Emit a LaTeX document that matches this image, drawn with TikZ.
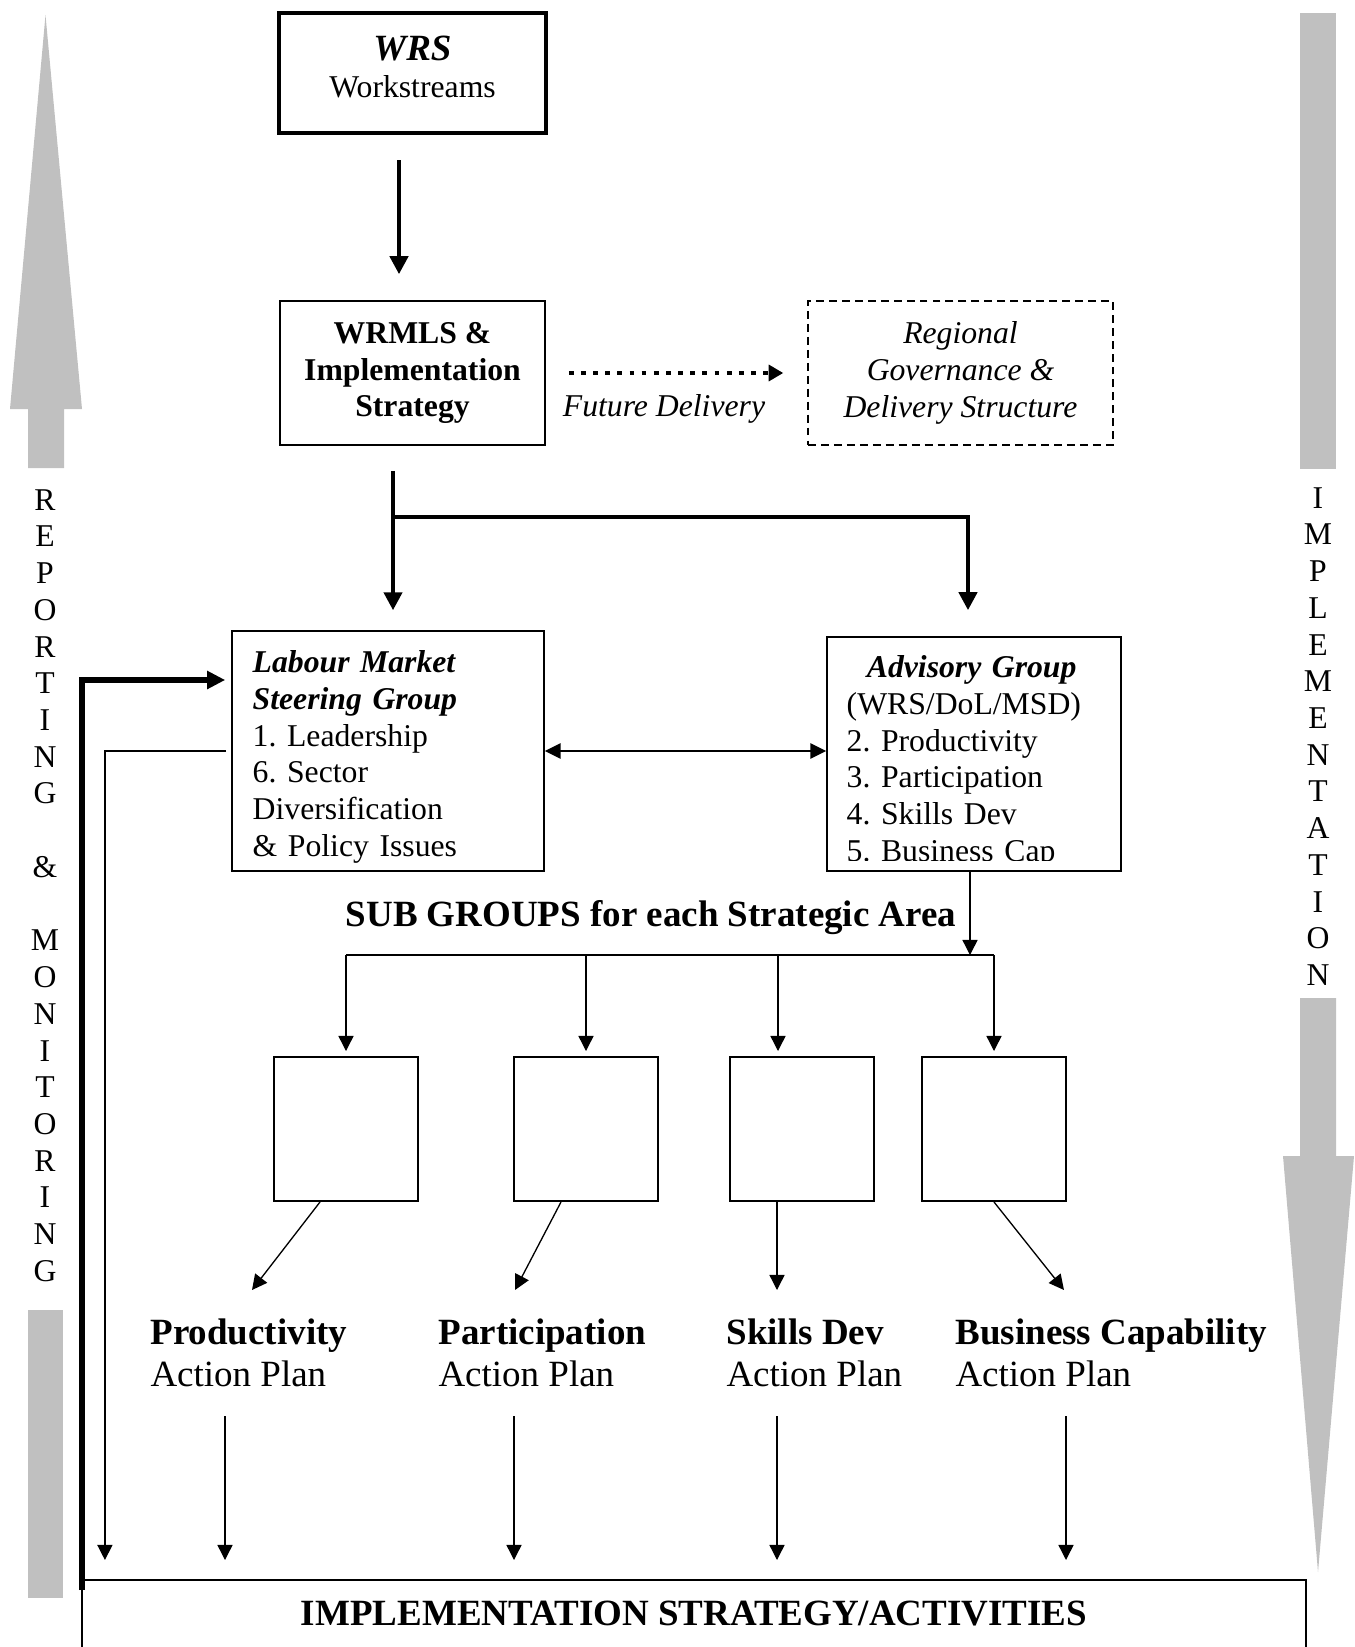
\documentclass[tikz,border=0pt]{standalone}
\usepackage{fontspec}
\setmainfont{Liberation Serif}
\usepackage{tikz}
\usetikzlibrary{positioning,arrows.meta,calc}
\definecolor{bargrey}{RGB}{192,192,192}
\frenchspacing

\begin{document}
\begin{tikzpicture}[x=0.3785pt, y=-0.3785pt,
    every node/.style={font=\fontsize{12}{13.9}\selectfont},
    box/.style={draw, line width=0.6pt, inner sep=0pt},
    subbox/.style={draw, line width=0.75pt, minimum size=54.5pt, inner sep=0pt},
    boxtext/.style={anchor=north west, inner sep=0pt, align=left},
    plan/.style={anchor=north west, inner sep=0pt, align=left, font=\fontsize{14}{16.1}\selectfont},
    heading/.style={font=\fontsize{14}{16.1}\selectfont\bfseries},
    bigarrow/.style={line width=1.6pt, -{Triangle[length=6.8pt,width=6.8pt]}},
    thinarrow/.style={line width=0.5pt, -{Triangle[length=5.7pt,width=5.7pt]}},
    dotarrow/.style={line width=1.8pt, dash pattern=on 1.8pt off 2.8pt, -{Triangle[length=5.5pt,width=6pt]}},
    bothways/.style={line width=0.9pt, {Triangle[length=6pt,width=5.7pt]}-{Triangle[length=6pt,width=5.7pt]}},
    sidetext/.style={align=center, inner sep=0pt}]

  \useasboundingbox (0,0) rectangle (1355,1647);

  % Frecce grigie laterali
  \fill[bargrey] (28,468) -- (28,409) -- (10,409) -- (45.5,15) -- (82,409) -- (64,409) -- (64,468) -- cycle;
  \fill[bargrey] (28,1310) rectangle (63,1598);
  \fill[bargrey] (1300,13) rectangle (1336,469);
  \fill[bargrey] (1300,998) -- (1336,998) -- (1336,1156) -- (1354,1156) -- (1318,1572) -- (1283,1156) -- (1300,1156) -- cycle;
  \node[sidetext] (repmon) at (45,885.5) {R\\E\\P\\O\\R\\T\\I\\N\\G\\[13.9pt]\&\\[13.9pt]M\\O\\N\\I\\T\\O\\R\\I\\N\\G};
  \node[sidetext] (implside) at (1318,736.5) {I\\M\\P\\L\\E\\M\\E\\N\\T\\A\\T\\I\\O\\N};

  % Livello superiore
  \node[box, line width=1.8pt, minimum width=101.1pt, minimum height=45.4pt, align=center, text depth=4.5pt] (wrs) at (412.5,73)
    {{\fontsize{14}{16.1}\selectfont\bfseries\itshape WRS}\\Workstreams};
  \node[box, minimum width=100.3pt, minimum height=54.5pt, align=center,
    font=\fontsize{12}{13.9}\selectfont\bfseries] (wrmls) at (412.5,373) {WRMLS \&\\Implementation\\Strategy};
  \node[box, dash pattern=on 3pt off 1.9pt, minimum width=115.4pt, minimum height=54.5pt, align=center,
    font=\fontsize{12}{13.9}\selectfont\itshape] (region) at (960.5,373) {Regional\\Governance \&\\Delivery Structure};
  \node[font=\fontsize{12}{13.9}\selectfont\itshape] (future) at (664,409) {Future Delivery};

  \draw[bigarrow] ($(wrs.south)+(-13.5,25)$) -- ($(wrmls.north)+(-13.5,-26)$);
  \draw[dotarrow] ($(wrmls.east)+(23,0)$) -- ($(region.west)+(-24,0)$);

  % Gruppi
  \node[box, minimum width=118.1pt, minimum height=90.8pt] (lmsg) at (388,751) {};
  \node[boxtext, text width=102.2pt] (lmsgtext) at ($(lmsg.north west)+(21,20)$)
    {\textbf{\textit{Labour Market}}\\\textbf{\textit{Steering Group}}\\1. Leadership\\6. Sector\\Diversification\\\& Policy Issues};
  \node[box, minimum width=111.3pt, minimum height=88.6pt] (adv) at (974,754) {};
  \begin{scope}
    \clip (adv.north west) rectangle ($(adv.south east)+(0,-11)$);
    \node[boxtext, text width=94.6pt] (advtext) at ($(adv.north west)+(20,19)$)
      {\makebox[94.6pt]{\textbf{\textit{Advisory Group}}}\\(WRS/DoL/MSD)\\2. Productivity\\3. Participation\\4. Skills Dev\\5. Business Cap};
  \end{scope}

  \coordinate (fork) at ($(wrmls.south)+(-19.5,25)$);
  \draw[bigarrow] (fork) -- ($(fork |- lmsg.north)+(0,-20)$);
  \draw[bigarrow] ($(fork)+(0,46)$) -| ($(adv.north)+(-6,-26)$);
  \draw[bothways] (lmsg.east) -- (lmsg.east -| adv.west);

  % Livello inferiore
  \node[draw, line width=0.8pt, minimum width=463.3pt, minimum height=37.9pt, anchor=north, inner sep=0pt] (impl) at (694,1579) {};
  \node[heading] (impltext) at (694,1614) {IMPLEMENTATION STRATEGY/ACTIVITIES};

  \coordinate (repbase) at (82,1590);
  \draw[line width=2pt, -{Triangle[length=6.8pt,width=6.5pt]}] (repbase) |- ($(lmsg.west)+(-6,-71)$);
  \draw[thinarrow] ($(lmsg.west)+(-5,0)$) -| ($(impl.north west)+(24,-19)$);

  % Sottogruppi
  \node[heading] (subhead) at (651,918) {SUB GROUPS for each Strategic Area};
  \node[subbox] (sg1) at (346,1129) {};
  \node[subbox] (sg2) at (586,1129) {};
  \node[subbox] (sg3) at (802,1129) {};
  \node[subbox] (sg4) at (994,1129) {};

  \coordinate (bus) at ($(sg1.north)+(0,-101)$);
  \draw[line width=0.6pt] (bus) -- (bus -| sg4.north);
  \coordinate (advout) at ($(adv.south)+(-4,0)$);
  \draw[thinarrow] (advout) -- (advout |- bus);
  \foreach \s/\dx in {sg1/0, sg2/0, sg3/-24, sg4/0}
    \draw[thinarrow] ($(\s.north)+(\dx,-101)$) -- ($(\s.north)+(\dx,-5)$);

  % Piani d'azione
  \node[plan] (pl1) at (150,1318) {\textbf{Productivity}\\Action Plan};
  \node[plan] (pl2) at (438,1318) {\textbf{Participation}\\Action Plan};
  \node[plan] (pl3) at (726,1318) {\textbf{Skills Dev}\\Action Plan};
  \node[plan] (pl4) at (955,1318) {\textbf{Business Capability}\\Action Plan};

  \foreach \i/\a/\b in {1/-26/102, 2/-25/77, 3/-25/51, 4/0/109}
    \draw[thinarrow] ($(sg\i.south)+(\a,0)$) -- ($(pl\i.north west)+(\b,-28)$);
  \foreach \i/\dx in {1/75, 2/76, 3/51, 4/111}
    \draw[thinarrow] ($(pl\i.north west)+(\dx,98)$) -- ($(pl\i.north west)+(\dx,242)$);
\end{tikzpicture}
\end{document}
